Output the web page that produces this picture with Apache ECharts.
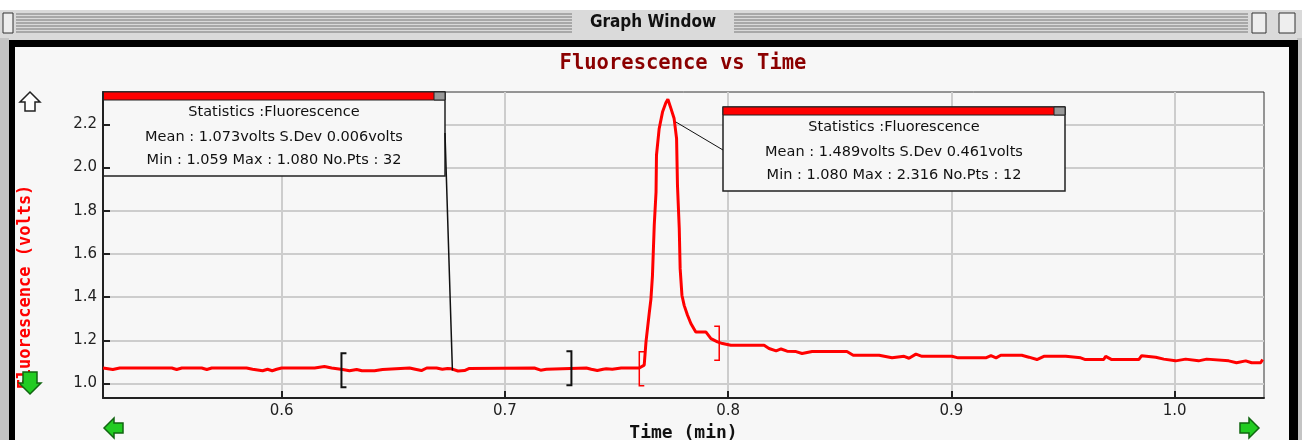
<!DOCTYPE html>
<html>
<head>
<meta charset="utf-8">
<title>Graph Window</title>
<script src="https://cdn.jsdelivr.net/npm/echarts@6/dist/echarts.min.js"></script>
<style>
html, body { margin: 0; padding: 0; background: #fff; }
#chart { width: 1302px; height: 440px; }
</style>
</head>
<body>
<div id="chart"></div>
<script type="text/javascript">
// time (min) and fluorescence (volts)
var timeMin = [0.520, 0.5244, 0.5275, 0.5508, 0.5530, 0.5553, 0.5642, 0.5665, 0.5687, 0.5843,
    0.5870, 0.5915, 0.5937, 0.5958, 0.5978, 0.6000, 0.6148, 0.6192, 0.6224, 0.6273,
    0.6304, 0.6336, 0.6360, 0.6416, 0.6452, 0.6573, 0.6604, 0.6626, 0.6650, 0.6694,
    0.6720, 0.6743, 0.6761, 0.6790, 0.6819, 0.6841, 0.7132, 0.7160, 0.7186, 0.7365,
    0.7387, 0.7414, 0.7440, 0.7454, 0.7481, 0.7521, 0.7602, 0.7624, 0.7632, 0.7647,
    0.7654, 0.7661, 0.7669, 0.7677, 0.7679, 0.7691, 0.7706, 0.7721, 0.7730, 0.7744,
    0.7758, 0.7769, 0.7773, 0.7781, 0.7785, 0.7793, 0.7803, 0.7818, 0.7833, 0.7855,
    0.7900, 0.7923, 0.7952, 0.7975, 0.8012, 0.8161, 0.8183, 0.8215, 0.8237, 0.8264,
    0.8304, 0.8331, 0.8376, 0.8532, 0.8560, 0.8676, 0.8734, 0.8788, 0.8810, 0.8841,
    0.8868, 0.9002, 0.9030, 0.9154, 0.9177, 0.9200, 0.9221, 0.9315, 0.9347, 0.9383,
    0.9414, 0.9512, 0.9579, 0.9600, 0.9682, 0.9691, 0.9718, 0.9839, 0.9852, 0.9915,
    0.9951, 1.0004, 1.0049, 1.0107, 1.0143, 1.0242, 1.0277, 1.0318, 1.0345, 1.0385,
    1.0394];
var volts = [1.072, 1.065, 1.072, 1.072, 1.065, 1.072, 1.072, 1.065, 1.072, 1.072,
    1.066, 1.059, 1.066, 1.059, 1.066, 1.072, 1.072, 1.079, 1.072, 1.065,
    1.059, 1.065, 1.059, 1.059, 1.065, 1.072, 1.065, 1.060, 1.072, 1.072,
    1.066, 1.070, 1.068, 1.058, 1.060, 1.070, 1.072, 1.062, 1.066, 1.072,
    1.066, 1.060, 1.066, 1.068, 1.066, 1.072, 1.072, 1.085, 1.193, 1.330,
    1.390, 1.500, 1.733, 1.887, 2.057, 2.180, 2.257, 2.300, 2.316, 2.273,
    2.227, 2.134, 1.918, 1.718, 1.532, 1.409, 1.362, 1.316, 1.278, 1.239,
    1.239, 1.208, 1.193, 1.185, 1.177, 1.177, 1.162, 1.151, 1.160, 1.150,
    1.148, 1.139, 1.148, 1.148, 1.131, 1.131, 1.119, 1.126, 1.117, 1.136,
    1.126, 1.126, 1.119, 1.119, 1.129, 1.119, 1.131, 1.131, 1.122, 1.111,
    1.126, 1.126, 1.119, 1.111, 1.111, 1.126, 1.111, 1.111, 1.129, 1.122,
    1.113, 1.105, 1.113, 1.105, 1.113, 1.105, 1.096, 1.105, 1.096, 1.096,
    1.111];
var xTicks = [0.6, 0.7, 0.8, 0.9, 1.0];
var yTicks = [1.0, 1.2, 1.4, 1.6, 1.8, 2.0, 2.2];

// statistics windows
var stats1 = ['Statistics :Fluorescence', 'Mean : 1.073volts S.Dev 0.006volts', 'Min : 1.059 Max : 1.080 No.Pts : 32'];
var stats2 = ['Statistics :Fluorescence', 'Mean : 1.489volts S.Dev 0.461volts', 'Min : 1.080 Max : 2.316 No.Pts : 12'];
// selection brackets: time, volts, side
var select1 = [[0.6268, 1.062, '['], [0.7298, 1.071, ']']];
var select2 = [[0.7602, 1.068, '['], [0.7960, 1.187, ']']];
// where each statistics window points on the trace
var pointer1 = [0.6765, 1.060];
var pointer2 = [0.7766, 2.211];

var myChart = echarts.init(document.getElementById('chart'));
var tickFont = { color: '#222', fontSize: 15, fontFamily: 'DejaVu Sans' };

var option = {
    backgroundColor: '#f7f7f7',
    animation: false,
    grid: {
        left: 103, top: 92, right: 38, bottom: 42,
        outerBoundsMode: 'none',
        show: true, backgroundColor: '#f7f7f7', borderColor: '#333', borderWidth: 1
    },
    xAxis: {
        type: 'value', min: 0.52, max: 1.04,
        name: 'Time (min)', nameLocation: 'middle', nameGap: 22,
        nameTextStyle: { color: '#111', fontSize: 18, fontWeight: 'bold', fontFamily: 'DejaVu Sans Mono' },
        axisLine: { lineStyle: { color: '#222', width: 2 } },
        axisTick: { inside: true, length: 7, customValues: xTicks, lineStyle: { color: '#222', width: 2 } },
        axisLabel: Object.assign({ customValues: xTicks, margin: 6, formatter: function (v) { return v.toFixed(1); } }, tickFont),
        splitLine: { show: true, lineStyle: { color: '#cdcdcd', width: 2 } }
    },
    yAxis: {
        type: 'value', min: 0.933, max: 2.35,
        axisLine: { show: true, lineStyle: { color: '#222', width: 2 } },
        axisTick: { show: true, inside: true, length: 7, customValues: yTicks, lineStyle: { color: '#222', width: 2 } },
        axisLabel: Object.assign({ customValues: yTicks, margin: 6, formatter: function (v) { return v.toFixed(1); } }, tickFont),
        splitLine: { show: true, lineStyle: { color: '#cdcdcd', width: 2 } }
    },
    series: [{
        type: 'line',
        data: timeMin.map(function (t, i) { return [t, volts[i]]; }),
        showSymbol: false,
        lineStyle: { color: '#ff0000', width: 3 },
        z: 3
    }]
};
myChart.setOption(option);

function statsBox(x, y, lines) {
    var w = 342, h = 84;
    var kids = [
        { type: 'rect', shape: { x: 0, y: 0, width: w, height: h }, style: { fill: '#f7f7f7', stroke: '#222', lineWidth: 1.5 } },
        { type: 'rect', shape: { x: 0, y: 0, width: w, height: 8 }, style: { fill: '#ff0000', stroke: '#222', lineWidth: 1 } },
        { type: 'rect', shape: { x: w - 11, y: 0, width: 11, height: 8 }, style: { fill: '#999', stroke: '#222', lineWidth: 1 } }
    ];
    [20, 45, 68].forEach(function (ty, i) {
        kids.push({ type: 'text', x: w / 2, y: ty, style: { text: lines[i], fill: '#111', font: '14.5px "DejaVu Sans"', align: 'center', verticalAlign: 'middle' } });
    });
    return { type: 'group', x: x, y: y, z: 100, children: kids };
}

function bracket(b, color, lw) {
    var p = myChart.convertToPixel({ gridIndex: 0 }, [b[0], b[1]]);
    var d = b[2] === '[' ? 5 : -5;
    return {
        type: 'polyline', z: 50,
        shape: { points: [[p[0] + d, p[1] - 17], [p[0], p[1] - 17], [p[0], p[1] + 17], [p[0] + d, p[1] + 17]] },
        style: { stroke: color, lineWidth: lw, fill: null }
    };
}

function arrow(pts, fill, stroke) {
    return { type: 'polygon', z: 60, shape: { points: pts }, style: { fill: fill, stroke: stroke, lineWidth: 1.5 } };
}

var p1 = myChart.convertToPixel({ gridIndex: 0 }, pointer1);
var p2 = myChart.convertToPixel({ gridIndex: 0 }, pointer2);

var elements = [
    // window chrome
    { type: 'rect', shape: { x: 0, y: 0, width: 1302, height: 10 }, style: { fill: '#ffffff' } },
    { type: 'rect', shape: { x: 0, y: 10, width: 1302, height: 30 }, style: { fill: '#dadada' } },
    { type: 'rect', shape: { x: 0, y: 38, width: 9, height: 402 }, style: { fill: '#c4c4c4' } },
    { type: 'rect', shape: { x: 1297, y: 38, width: 5, height: 402 }, style: { fill: '#c4c4c4' } },
    { type: 'rect', shape: { x: 9, y: 40, width: 1289, height: 7 }, style: { fill: '#000' } },
    { type: 'rect', shape: { x: 9, y: 40, width: 6, height: 400 }, style: { fill: '#000' } },
    { type: 'rect', shape: { x: 1289, y: 40, width: 9, height: 400 }, style: { fill: '#000' } },
    { type: 'rect', shape: { x: 3, y: 13, width: 10, height: 20 }, style: { fill: '#eee', stroke: '#333', lineWidth: 1 } },
    { type: 'rect', shape: { x: 1252, y: 13, width: 14, height: 20 }, style: { fill: '#eee', stroke: '#333', lineWidth: 1 } },
    { type: 'rect', shape: { x: 1279, y: 13, width: 16, height: 20 }, style: { fill: '#eee', stroke: '#333', lineWidth: 1 } },
    { type: 'text', x: 653, y: 23, style: { text: 'Graph Window', fill: '#111', font: 'bold 17px "DejaVu Sans Condensed"', align: 'center', verticalAlign: 'middle' } },
    // plot title and y axis name
    { type: 'text', x: 683, y: 64, style: { text: 'Fluorescence vs Time', fill: '#8b0000', font: 'bold 20.5px "DejaVu Sans Mono"', align: 'center', verticalAlign: 'middle' } },
    { type: 'text', x: 26, y: 287, rotation: Math.PI / 2, style: { text: 'Fluorescence (volts)', fill: '#ff0000', font: 'bold 17px "DejaVu Sans Mono"', align: 'center', verticalAlign: 'middle' } },
    // scroll arrows
    arrow([[30, 92], [40, 102], [35, 102], [35, 111], [25, 111], [25, 102], [20, 102]], '#ffffff', '#222'),
    arrow([[30, 394], [41, 383], [37, 383], [37, 372], [23, 372], [23, 383], [19, 383]], '#22cc22', '#116611'),
    arrow([[104, 428], [114, 418], [114, 423], [123, 423], [123, 433], [114, 433], [114, 438]], '#22cc22', '#116611'),
    arrow([[1259, 428], [1249, 418], [1249, 423], [1240, 423], [1240, 433], [1249, 433], [1249, 438]], '#22cc22', '#116611'),
    // pointers from statistics windows to the trace
    { type: 'line', z: 90, shape: { x1: 445, y1: 133, x2: p1[0], y2: p1[1] }, style: { stroke: '#111', lineWidth: 1.5 } },
    { type: 'line', z: 90, shape: { x1: 723, y1: 150, x2: p2[0], y2: p2[1] }, style: { stroke: '#111', lineWidth: 1 } },
    statsBox(103, 92, stats1),
    statsBox(723, 107, stats2)
];
// title bar stripes
[14, 17, 20, 23, 26, 29, 32].forEach(function (y) {
    elements.push({ type: 'line', shape: { x1: 16, y1: y, x2: 572, y2: y }, style: { stroke: '#777', lineWidth: 1 } });
    elements.push({ type: 'line', shape: { x1: 734, y1: y, x2: 1248, y2: y }, style: { stroke: '#777', lineWidth: 1 } });
});
select1.forEach(function (b) { elements.push(bracket(b, '#111', 2)); });
select2.forEach(function (b) { elements.push(bracket(b, '#ff0000', 1.5)); });

myChart.setOption({ graphic: { elements: elements } });
</script>
</body>
</html>
